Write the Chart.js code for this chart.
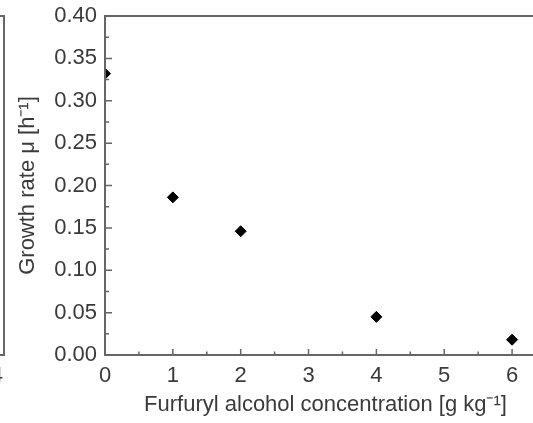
<!DOCTYPE html>
<html>
<head>
<meta charset="utf-8">
<script src="https://cdn.jsdelivr.net/npm/chart.js@4/dist/chart.umd.min.js"></script>
<style>
  html, body { margin: 0; padding: 0; background: #fff; overflow: hidden; }
  #wrap { position: relative; width: 533px; height: 423px; overflow: hidden; }
  #panelA { position: absolute; left: -296px; top: 0; }
  #panelB { position: absolute; left: 0; top: 0; }
</style>
</head>
<body>
<div id="wrap">
  <canvas id="panelA" width="320" height="423"></canvas>
  <canvas id="panelB" width="560" height="423"></canvas>
</div>
<script>
// Furfuryl alcohol concentration [g kg^-1] and measured specific growth rate [h^-1]
const concentration = [0, 1, 2, 4, 6];
const growthRate = [0.332, 0.186, 0.146, 0.045, 0.018];

// Axis ticks of the growth-rate panel
const xTickValues = [0, 1, 2, 3, 4, 5, 6];
const yTickValues = [0, 0.05, 0.10, 0.15, 0.20, 0.25, 0.30, 0.35, 0.40];
const yTickLabels = ['0.00', '0.05', '0.10', '0.15', '0.20', '0.25', '0.30', '0.35', '0.40'];

// Axis ticks of the neighbouring panel on the left
const leftPanelXTicks = [0, 1, 2, 3, 4];

const AXIS_COLOR = '#666666';
const TEXT_COLOR = '#3a3a3a';
const FONT = { family: "'Liberation Sans', Arial, sans-serif", size: 22 };

Chart.defaults.font.family = FONT.family;
Chart.defaults.color = TEXT_COLOR;

// keep the plot area exactly where the layout padding puts it
function noOverhang(s) {
  s.paddingTop = 0; s.paddingBottom = 0; s.paddingLeft = 0; s.paddingRight = 0;
}

// Origin-style frame with inward major and minor ticks
const frameAndTicks = {
  id: 'frameAndTicks',
  afterDraw(chart, args, opts) {
    const { ctx, chartArea: a, scales } = chart;
    const x = scales.x, y = scales.y;
    ctx.save();
    ctx.strokeStyle = AXIS_COLOR;
    ctx.lineWidth = 2;
    ctx.strokeRect(a.left, a.top, a.right - a.left, a.bottom - a.top);
    ctx.lineWidth = 1.5;
    ctx.beginPath();
    const xt = opts.xTicks || [];
    xt.forEach((v, i) => {
      const px = x.getPixelForValue(v);
      ctx.moveTo(px, a.bottom); ctx.lineTo(px, a.bottom - 6);
      if (i < xt.length - 1) {
        const pm = x.getPixelForValue((v + xt[i + 1]) / 2);
        ctx.moveTo(pm, a.bottom); ctx.lineTo(pm, a.bottom - 3.5);
      }
    });
    const yt = opts.yTicks || [];
    yt.forEach((v, i) => {
      const py = y.getPixelForValue(v);
      ctx.moveTo(a.left, py); ctx.lineTo(a.left + 7, py);
      if (i < yt.length - 1) {
        const pm = y.getPixelForValue((v + yt[i + 1]) / 2);
        ctx.moveTo(a.left, pm); ctx.lineTo(a.left + 4, pm);
      }
    });
    ctx.stroke();
    ctx.restore();
  }
};

// Neighbouring panel: only its right edge shows at the left border
new Chart(document.getElementById('panelA'), {
  type: 'scatter',
  data: { datasets: [{ data: [] }] },
  plugins: [frameAndTicks],
  options: {
    responsive: false,
    animation: false,
    devicePixelRatio: 1,
    layout: { padding: { top: 16, right: 20, left: 10, bottom: 0 } },
    plugins: { legend: { display: false }, tooltip: { enabled: false }, frameAndTicks: { xTicks: leftPanelXTicks } },
    scales: {
      x: {
        type: 'linear', min: 0, max: 4.1,
        afterBuildTicks: s => { s.ticks = leftPanelXTicks.map(v => ({ value: v })); },
        afterFit: s => { s.height = 68; noOverhang(s); },
        grid: { display: false, drawTicks: false },
        border: { display: false },
        ticks: { font: FONT, padding: 8, color: TEXT_COLOR, maxRotation: 0 }
      },
      y: { type: 'linear', min: 0, max: 0.4, display: false }
    }
  }
});

// Growth rate versus furfuryl alcohol concentration
new Chart(document.getElementById('panelB'), {
  type: 'scatter',
  data: {
    datasets: [{
      data: concentration.map((c, i) => ({ x: c, y: growthRate[i] })),
      pointStyle: 'rectRot',
      pointRadius: 5.5,
      pointBackgroundColor: '#000',
      pointBorderColor: '#000',
      pointBorderWidth: 1,
      clip: 0
    }]
  },
  plugins: [frameAndTicks],
  options: {
    responsive: false,
    animation: false,
    devicePixelRatio: 1,
    layout: { padding: { top: 16, right: 14, left: 0, bottom: 0 } },
    plugins: {
      legend: { display: false },
      tooltip: { enabled: false },
      frameAndTicks: { xTicks: xTickValues, yTicks: yTickValues }
    },
    scales: {
      x: {
        type: 'linear', min: 0, max: 6.5,
        afterBuildTicks: s => { s.ticks = xTickValues.map(v => ({ value: v })); },
        afterFit: s => { s.height = 68; noOverhang(s); },
        grid: { display: false, drawTicks: false },
        border: { display: false },
        ticks: { font: FONT, padding: 8, color: TEXT_COLOR, maxRotation: 0 },
        title: {
          display: true,
          text: 'Furfuryl alcohol concentration [g kg\u207B\u00B9]',
          font: FONT,
          color: TEXT_COLOR,
          padding: { top: 0, bottom: 5 }
        }
      },
      y: {
        type: 'linear', min: 0, max: 0.4,
        afterBuildTicks: s => { s.ticks = yTickValues.map(v => ({ value: v })); },
        afterFit: s => { s.width = 105; noOverhang(s); },
        grid: { display: false, drawTicks: false },
        border: { display: false },
        ticks: {
          font: FONT, padding: 8, color: TEXT_COLOR,
          callback: (v, i) => yTickLabels[i]
        },
        title: {
          display: true,
          text: 'Growth rate \u03BC [h\u207B\u00B9]',
          font: FONT,
          color: TEXT_COLOR,
          padding: { top: 15, bottom: 0 }
        }
      }
    }
  }
});
</script>
</body>
</html>
